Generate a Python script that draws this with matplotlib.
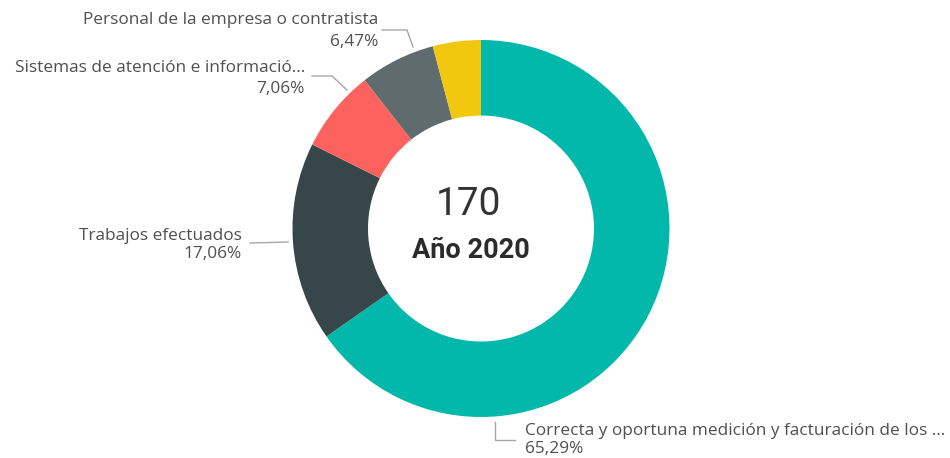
import matplotlib
matplotlib.use("Agg")
import matplotlib.pyplot as plt

# data
categories = [
    "Correcta y oportuna medición y facturación de los ...",
    "Trabajos efectuados",
    "Sistemas de atención e informació...",
    "Personal de la empresa o contratista",
    "Otros",
]
counts = [111, 29, 12, 11, 7]
colors = ["#01B8AA", "#374649", "#FD625E", "#5F6B6D", "#F2C80F"]
year_label = "Año 2020"

W, H = 950, 458
total = sum(counts)
pcts = [c / total * 100 for c in counts]


def fmt(p):
    return f"{p:.2f}".replace(".", ",") + "%"


def px(x, y):
    # pixel coords (top-left origin) -> data coords
    return x, H - y


plt.rcParams['font.family'] = ['Roboto', 'DejaVu Sans']

fig = plt.figure(figsize=(W / 100, H / 100), dpi=100)
ax = fig.add_axes([0, 0, 1, 1])

cx, cy = px(481, 228.5)
r_out = 188.5
ax.pie(counts, colors=colors, startangle=90, counterclock=False,
       center=(cx, cy), radius=r_out, frame=True,
       wedgeprops=dict(width=r_out - 113, linewidth=0))
ax.set_xlim(0, W)
ax.set_ylim(0, H)
ax.set_aspect("equal")
ax.axis("off")

# center text
ax.text(*px(469, 215), f"{total}", ha="center", va="baseline",
        fontsize=28, color="#333333", fontweight="normal")
ax.text(*px(471, 258), year_label, ha="center", va="baseline",
        fontsize=19.5, color="#2b2b2b", fontweight="bold")

lab_color = "#505050"
line_color = "#a6a6a6"
lab_font = ['Open Sans', 'DejaVu Sans']
fs = 12.4

# label layout: (index, anchor x, name baseline y, pct baseline y, ha, leader points)
layout = [
    (3, 378, 24, 46, "right", [(382, 30), (407, 30), (413, 47)]),
    (2, 305, 72, 93, "right", [(312, 76), (332, 76), (347, 90)]),
    (1, 242, 240, 258, "right", [(250, 243), (288, 242)]),
    (0, 525, 435, 453, "left", [(495, 422), (495, 440), (515, 440)]),
]

for i, x, y1, y2, ha, pts in layout:
    ax.text(*px(x, y1), categories[i], ha=ha, va="baseline",
            fontsize=fs, color=lab_color, family=lab_font)
    ax.text(*px(x, y2), fmt(pcts[i]), ha=ha, va="baseline",
            fontsize=fs, color=lab_color, family=lab_font)
    xs = [p[0] for p in pts]
    ys = [H - p[1] for p in pts]
    ax.plot(xs, ys, color=line_color, lw=1)

fig.savefig("out.png", dpi=100, facecolor="white")
